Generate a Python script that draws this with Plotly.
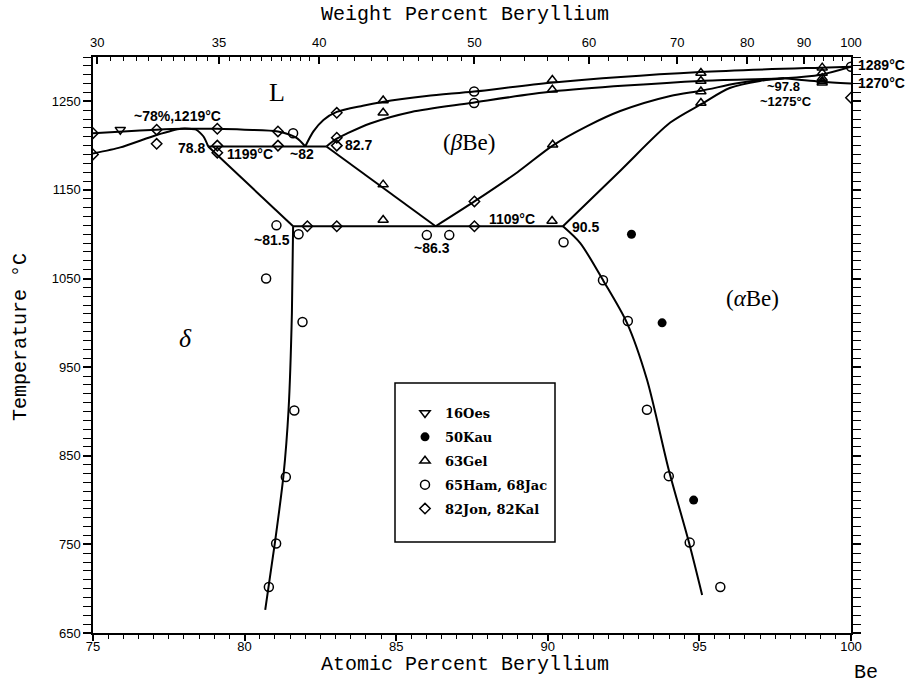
import plotly.graph_objects as go

# ---------------- phase boundaries (at.% Be, temperature °C) ----------------
liq_delta_x = [75.0, 76.0, 77.1, 78.0, 78.5, 79.1, 80.0, 81.1, 81.7, 82.0]
liq_delta_t = [1214, 1216, 1218, 1219, 1219, 1219, 1218, 1216, 1209, 1199]

sol_delta_x = [75.0, 75.9, 77.1, 77.9, 78.4, 78.65, 78.8]
sol_delta_t = [1191, 1198, 1212, 1219, 1218, 1210, 1199]

delta_solvus_x = [78.8, 81.6]
delta_solvus_t = [1199, 1109]

delta_low_x = [81.6, 81.56, 81.45, 81.28, 81.0, 80.68]
delta_low_t = [1109, 1011, 902, 827, 752, 676]

eut_x = [78.8, 82.7]
eut_t = [1199, 1199]

beta_left_x = [82.7, 86.3]
beta_left_t = [1199, 1109]

eutectoid_x = [81.6, 90.5]
eutectoid_t = [1109, 1109]

liq_beta_x = [82.0, 82.27, 82.6, 83.04, 83.9, 84.5, 86.0, 87.57, 90.1, 95.03, 99.0, 100.0]
liq_beta_t = [1199, 1216, 1229, 1238, 1245, 1249, 1256, 1261, 1271, 1283, 1288, 1289]

sol_beta_x = [82.7, 83.0, 83.4, 84.14, 85.5, 87.44, 90.14, 95.03, 97.8, 99.0, 100.0]
sol_beta_t = [1199, 1207, 1214, 1225, 1238, 1248, 1261, 1273, 1276, 1280, 1289]

beta_transus_x = [86.3, 87.58, 89.0, 90.16, 91.3, 92.39, 94.04, 95.07, 96.2, 97.0, 97.8]
beta_transus_t = [1109, 1137, 1170, 1200, 1222, 1239, 1256, 1262, 1270, 1274, 1276]

alpha_transus_x = [90.5, 92.4, 94.04, 95.07, 96.0, 97.0, 97.8]
alpha_transus_t = [1109, 1172, 1226, 1247, 1265, 1273, 1276]

ab_x = [97.8, 99.06, 100.0]
ab_t = [1276, 1272, 1270]

alpha_solvus_x = [90.5, 91.07, 91.84, 92.61, 93.27, 93.99, 94.65, 95.09]
alpha_solvus_t = [1109, 1090, 1047, 1000, 936, 834, 753, 693]

# ---------------- experimental data ----------------
oes_x = [75.9]
oes_t = [1218]

kau_x = [92.76, 93.77, 94.81]
kau_t = [1100, 1000, 800]

gel_x = [84.57, 84.57, 84.57, 84.57, 90.15, 90.15, 90.16, 90.14,
         95.05, 95.05, 95.05, 95.05, 99.05, 99.05, 99.05, 99.05, 99.05]
gel_t = [1251, 1237, 1156, 1116, 1274, 1263, 1201, 1115,
         1282, 1273, 1261, 1248, 1288, 1282, 1276, 1273, 1271]

ham_x = [80.8, 81.04, 81.36, 81.64, 81.91, 80.71, 81.78, 81.05, 81.6,
         87.57, 87.57, 86.01, 86.75,
         90.52, 91.82, 92.64, 93.27, 93.99, 94.68, 95.69, 100.0]
ham_t = [702, 751, 826, 901, 1001, 1050, 1100, 1110, 1214,
         1261, 1248, 1099, 1099,
         1091, 1048, 1002, 902, 827, 752, 702, 1289]

jon_x = [75.0, 75.0, 77.1, 77.1, 79.1, 79.1, 79.1, 81.1, 81.1,
         83.04, 83.04, 83.04, 82.07, 83.04, 87.58, 87.58, 100.0]
jon_t = [1214, 1190, 1218, 1202, 1219, 1200, 1192, 1216, 1200,
         1237, 1209, 1200, 1109, 1109, 1109, 1137, 1254]

# ---------------- axes ----------------
x_range = [75, 100]
y_range = [650, 1300]
x_ticks = [75, 80, 85, 90, 95, 100]
y_ticks = [650, 750, 850, 950, 1050, 1150, 1250]
wt_ticks = [30, 35, 40, 50, 60, 70, 80, 90, 100]
wt_minor = [30.5, 31, 31.5, 32, 32.5, 33, 33.5, 34, 34.5, 35.5, 36, 36.5, 37, 37.5,
            38, 38.5, 39, 39.5, 41, 42, 43, 44, 45, 46, 47, 48, 49,
            52, 54, 56, 58, 62, 64, 66, 68, 72, 74, 76, 78, 82, 84, 86, 88,
            92, 94, 96, 98]

M_BE = 9.012
M_CU = 63.546


def wt_to_at(w):
    if w >= 100:
        return 100.0
    nb = w / M_BE
    nc = (100 - w) / M_CU
    return 100 * nb / (nb + nc)


wt_tickvals = [wt_to_at(w) for w in wt_ticks]
wt_minorvals = [wt_to_at(w) for w in wt_minor]

fig = go.Figure()


def add_line(x, t, spline=True, smooth=0.8):
    if spline:
        ln = dict(color="black", width=2, shape="spline", smoothing=smooth)
    else:
        ln = dict(color="black", width=2)
    fig.add_trace(go.Scatter(x=x, y=t, mode="lines", line=ln,
                             showlegend=False, hoverinfo="skip"))


add_line(liq_delta_x, liq_delta_t)
add_line(sol_delta_x, sol_delta_t, smooth=0.6)
add_line(delta_solvus_x, delta_solvus_t, spline=False)
add_line(delta_low_x, delta_low_t, smooth=0.5)
add_line(eut_x, eut_t, spline=False)
add_line(beta_left_x, beta_left_t, spline=False)
add_line(eutectoid_x, eutectoid_t, spline=False)
add_line(liq_beta_x, liq_beta_t)
add_line(sol_beta_x, sol_beta_t)
add_line(beta_transus_x, beta_transus_t)
add_line(alpha_transus_x, alpha_transus_t)
add_line(ab_x, ab_t, smooth=0.5)
add_line(alpha_solvus_x, alpha_solvus_t)

mk_line = dict(color="black", width=1.5)
fig.add_trace(go.Scatter(x=oes_x, y=oes_t, mode="markers", name="16Oes", legendgroup="a",
                         marker=dict(symbol="triangle-down-open", size=9, color="black", line=mk_line)))
fig.add_trace(go.Scatter(x=kau_x, y=kau_t, mode="markers", name="50Kau", legendgroup="b",
                         marker=dict(symbol="circle", size=9, color="black", line=dict(width=0))))
fig.add_trace(go.Scatter(x=gel_x, y=gel_t, mode="markers", name="63Gel", legendgroup="c",
                         marker=dict(symbol="triangle-up-open", size=9, color="black", line=mk_line)))
fig.add_trace(go.Scatter(x=ham_x, y=ham_t, mode="markers", name="65Ham, 68Jac", legendgroup="d",
                         marker=dict(symbol="circle-open", size=9, color="black", line=mk_line)))
fig.add_trace(go.Scatter(x=jon_x, y=jon_t, mode="markers", name="82Jon, 82Kal", legendgroup="e",
                         marker=dict(symbol="diamond-open", size=8, color="black", line=mk_line)))

# invisible trace to activate top axis
fig.add_trace(go.Scatter(x=x_range, y=[None, None], xaxis="x2", mode="lines",
                         showlegend=False, hoverinfo="skip"))

tick_font = dict(family="Liberation Sans, Arial, sans-serif", size=13, color="black")
lab_font = dict(family="Liberation Sans, Arial, sans-serif", size=14, color="black", weight="bold")
small_lab_font = dict(family="Liberation Sans, Arial, sans-serif", size=13, color="black", weight="bold")
title_font = dict(family="Liberation Mono, Courier New, monospace", size=20, color="black")
serif = "Liberation Serif, Times New Roman, serif"

fig.update_layout(
    width=908, height=685,
    margin=dict(l=93, r=57, t=57, b=52),
    paper_bgcolor="white", plot_bgcolor="white",
    xaxis=dict(range=x_range, tickvals=x_ticks, ticks="outside", ticklen=6, tickwidth=1.5,
               tickcolor="black", showline=True, linecolor="black", linewidth=1.5,
               mirror=True, showgrid=False, zeroline=False, tickfont=tick_font,
               ticklabelstandoff=-5,
               minor=dict(dtick=0.5, ticks="outside", ticklen=4, tickwidth=1, tickcolor="black")),
    xaxis2=dict(range=x_range, overlaying="x", side="top", anchor="y",
                tickvals=wt_tickvals, ticktext=[str(w) for w in wt_ticks],
                ticks="inside", ticklen=7, tickwidth=1.5, tickcolor="black",
                ticklabelstandoff=6,
                showgrid=False, zeroline=False, showline=False, tickfont=tick_font,
                minor=dict(tickvals=wt_minorvals, ticks="inside", ticklen=4, tickwidth=1,
                           tickcolor="black")),
    yaxis=dict(range=y_range, tickvals=y_ticks, ticks="outside", ticklen=8, tickwidth=1.5,
               tickcolor="black", showline=True, linecolor="black", linewidth=1.5,
               mirror="allticks", showgrid=False, zeroline=False, tickfont=tick_font,
               minor=dict(dtick=10, tick0=650, ticks="outside", ticklen=4, tickwidth=1,
                          tickcolor="black")),
    legend=dict(x=(405 - 93) / 758, y=(633 - 398) / 576, xanchor="left", yanchor="top",
                bgcolor="rgba(0,0,0,0)", borderwidth=0, tracegroupgap=4,
                font=dict(family="DejaVu Serif, serif", size=13, color="black", weight="bold")),
    showlegend=True,
)

# legend frame
fig.add_shape(type="rect", xref="paper", yref="paper",
              x0=(395 - 93) / 758, x1=(555 - 93) / 758,
              y0=(633 - 542) / 576, y1=(633 - 383) / 576,
              line=dict(color="black", width=1.5), fillcolor="rgba(0,0,0,0)")


# axis titles
def paper_text(txt, px, py, **kw):
    fig.add_annotation(text=txt, xref="paper", yref="paper",
                       x=(px - 93) / 758, y=(633 - py) / 576,
                       xanchor="center", yanchor="middle", showarrow=False,
                       font=title_font, **kw)


paper_text("Atomic Percent Beryllium", 465, 664)
paper_text("Weight Percent Beryllium", 465, 14)
paper_text("Temperature °C", 20, 337, textangle=-90)
paper_text("Be", 866, 672)

# phase labels
fig.add_annotation(text="L", x=81.06, y=1260, showarrow=False,
                   font=dict(family=serif, size=26, color="black"))
fig.add_annotation(text="(<i>β</i>Be)", x=87.41, y=1203, showarrow=False,
                   font=dict(family=serif, size=23, color="black"))
fig.add_annotation(text="(<i>α</i>Be)", x=96.75, y=1028, showarrow=False,
                   font=dict(family=serif, size=23, color="black"))
fig.add_annotation(text="<i>δ</i>", x=78.04, y=982, showarrow=False,
                   font=dict(family=serif, size=26, color="black"))

# point labels
labels = [
    ("~78%,1219°C", 77.8, 1233),
    ("78.8", 78.26, 1197.5),
    ("1199°C", 80.18, 1191),
    ("~82", 81.89, 1191),
    ("82.7", 83.75, 1201),
    ("~81.5", 80.9, 1094),
    ("~86.3", 86.18, 1084),
    ("1109°C", 88.81, 1117.5),
    ("90.5", 91.24, 1108),
]
for txt, lx, ly in labels:
    fig.add_annotation(text=txt, x=lx, y=ly, showarrow=False, font=lab_font)

fig.add_annotation(text="~97.8", x=97.76, y=1266.5, showarrow=False,
                   font=small_lab_font, yanchor="middle")
fig.add_annotation(text="~1275°C", x=97.84, y=1250, showarrow=False,
                   font=small_lab_font, yanchor="middle")

for txt, ly in [("1289°C", 1291), ("1270°C", 1271)]:
    fig.add_annotation(text=txt, xref="paper", x=(856 - 93) / 758, y=ly, yref="y",
                       xanchor="left", yanchor="middle", showarrow=False, font=lab_font)

fig.write_html("out.html")
